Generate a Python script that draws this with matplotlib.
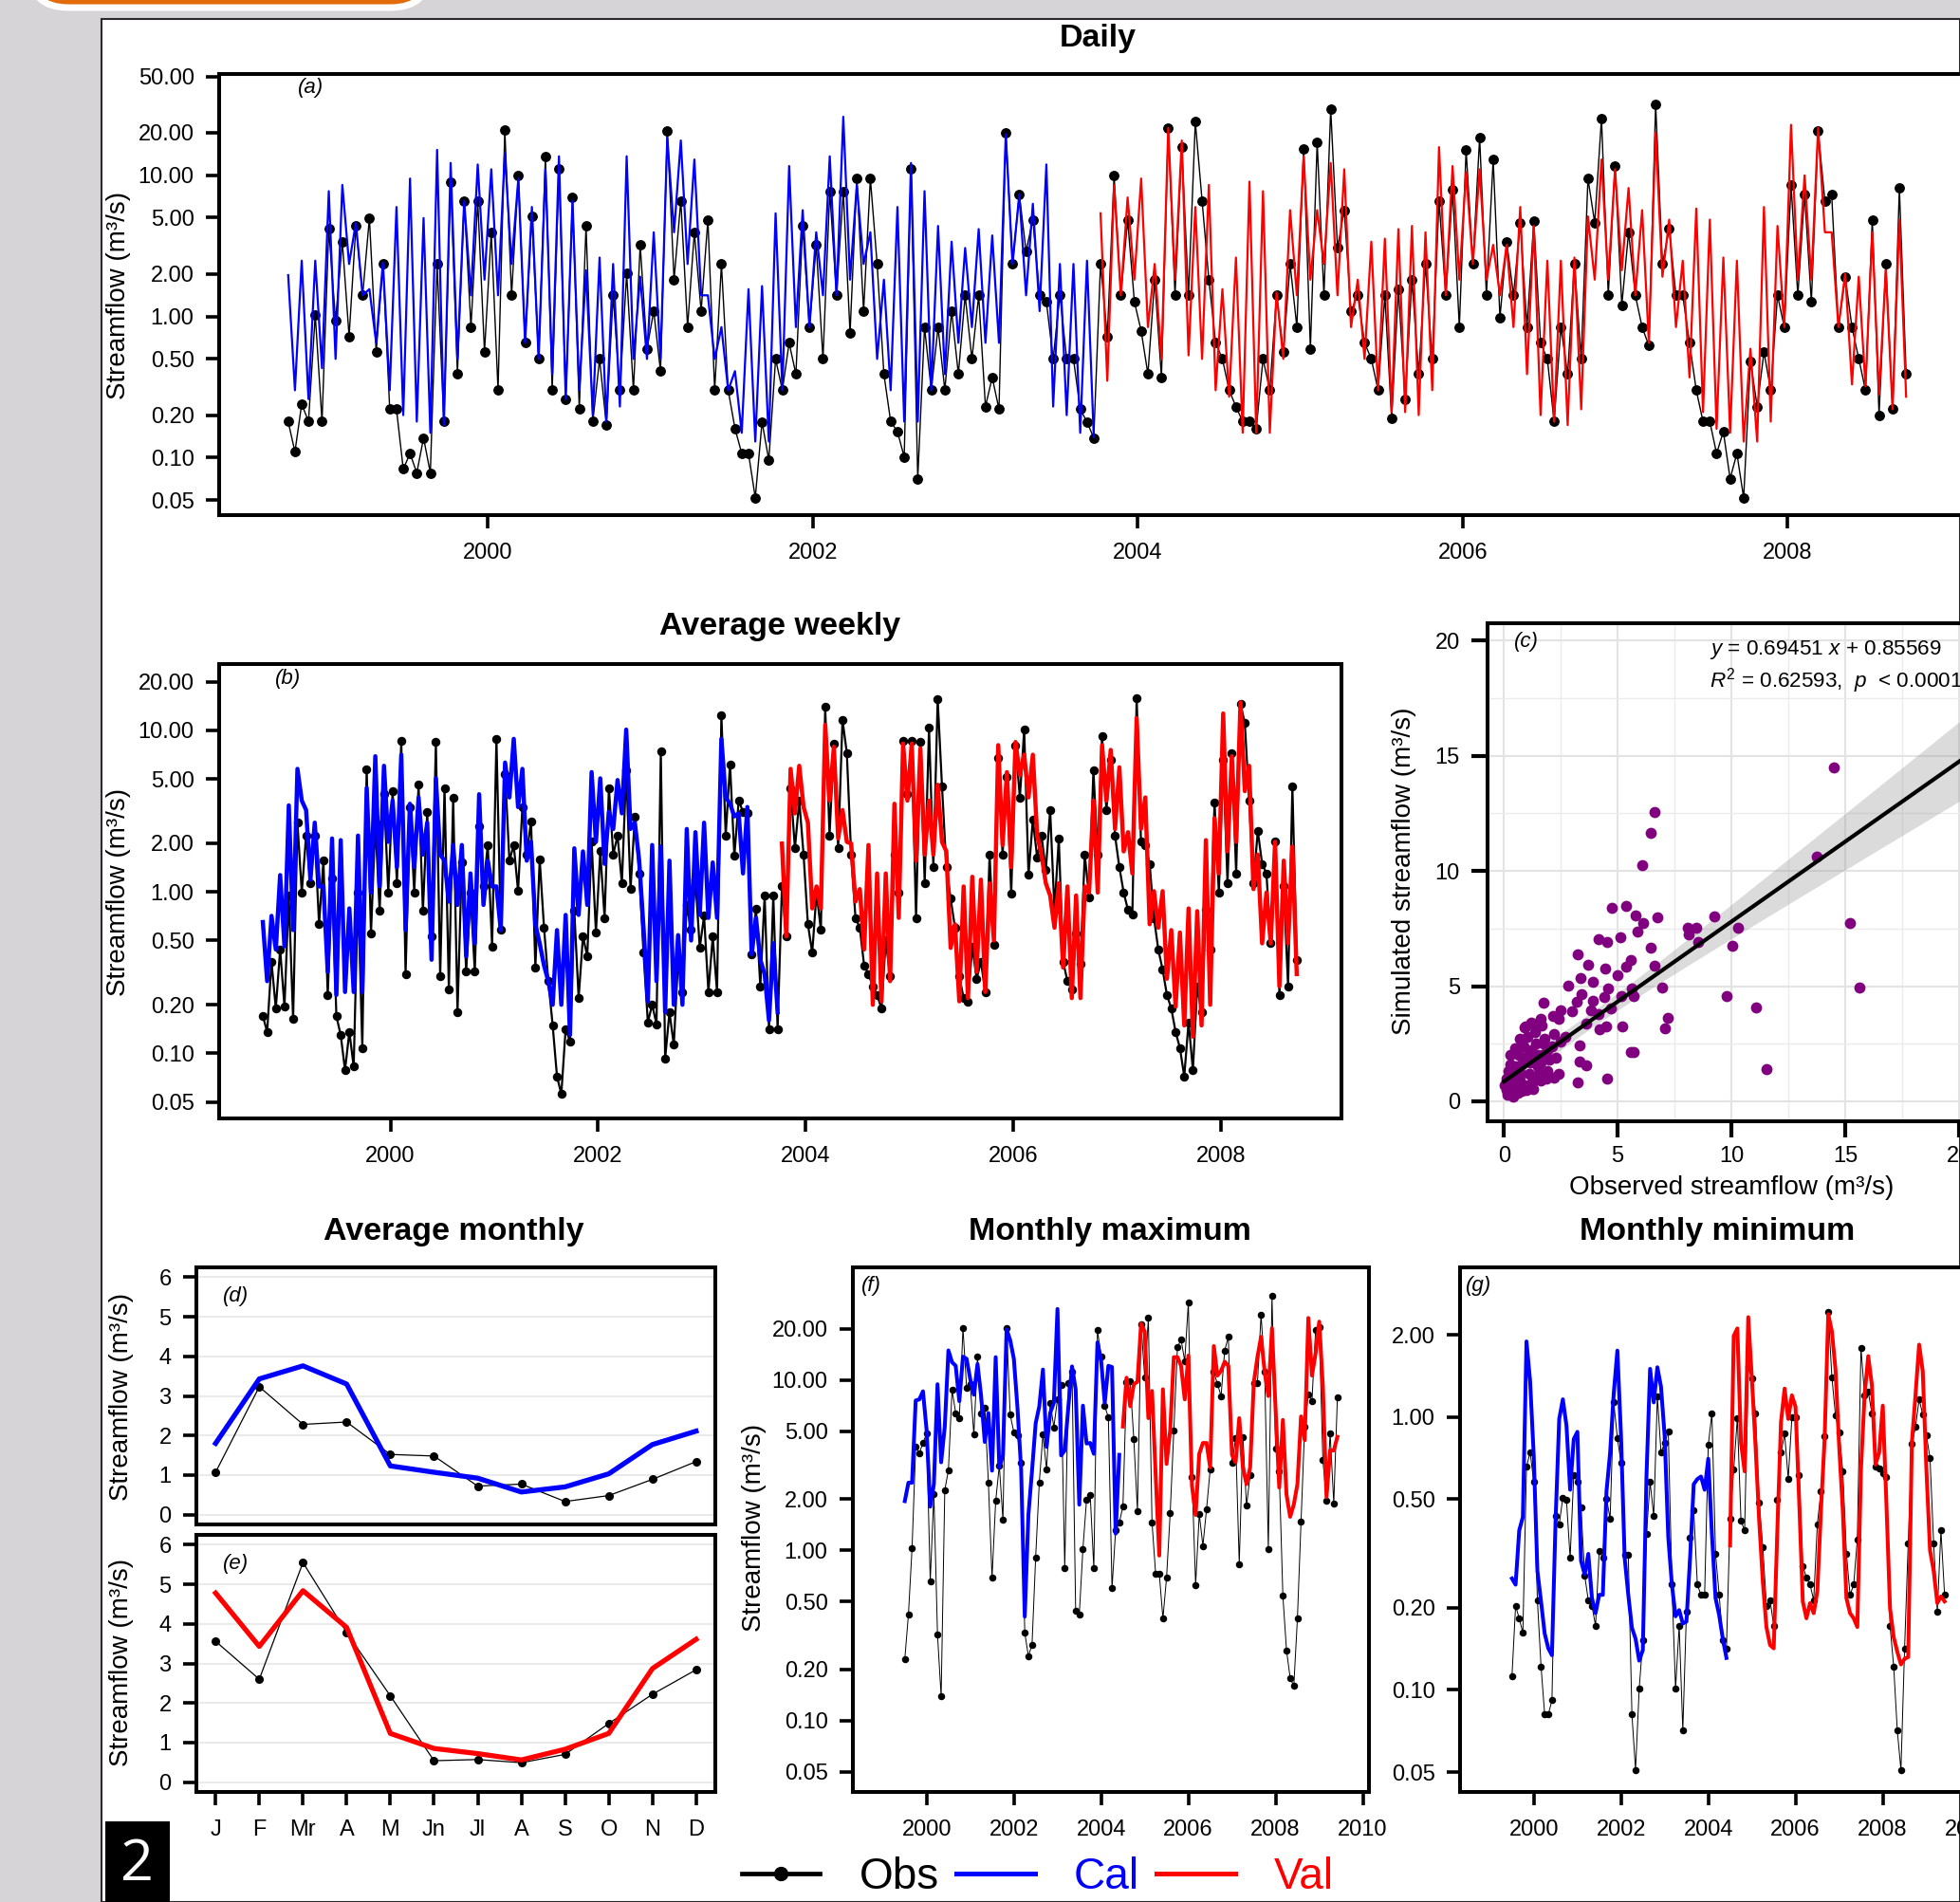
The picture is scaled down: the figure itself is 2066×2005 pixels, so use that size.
#! /usr/bin/env python
# observed vs simulated streamflow (calibration / validation) - multi panel figure
import numpy as np
import matplotlib
matplotlib.use('Agg')
import matplotlib.pyplot as plt
from matplotlib.patches import Rectangle, FancyBboxPatch
from matplotlib.lines import Line2D
from matplotlib.ticker import FixedLocator, FormatStrFormatter, NullLocator

plt.rcParams['font.family'] = ['Liberation Sans', 'DejaVu Sans']
plt.rcParams['mathtext.fontset'] = 'custom'
plt.rcParams['mathtext.rm'] = 'Liberation Sans'
plt.rcParams['mathtext.it'] = 'Liberation Sans:italic'

#################
# data (m3/s)
#################
# daily: two readings per month (high / low), Oct 1998 - Sep 2008
daily_obs = [
    0.18, 0.11, 0.24, 0.18, 1.03, 0.18, 4.15, 0.93, 3.38, 0.72, 4.37, 1.41, 4.97, 0.56, 2.35, 0.22,
    0.22, 0.083, 0.107, 0.078, 0.138, 0.078, 2.35, 0.18, 8.99, 0.39, 6.59, 0.84, 6.59, 0.56, 3.94, 0.30,
    21.0, 1.41, 9.96, 0.65, 5.10, 0.50, 13.6, 0.30, 11.0, 0.26, 6.95, 0.22, 4.37, 0.18, 0.50, 0.17,
    1.41, 0.30, 2.01, 0.30, 3.21, 0.59, 1.09, 0.41, 20.5, 1.82, 6.59, 0.84, 3.94, 1.09, 4.84, 0.30,
    2.35, 0.30, 0.161, 0.107, 0.107, 0.052, 0.179, 0.096, 0.50, 0.30, 0.65, 0.39, 4.37, 0.84, 3.21, 0.50,
    7.70, 1.41, 7.70, 0.76, 9.46, 1.09, 9.46, 2.35, 0.39, 0.18, 0.153, 0.101, 11.0, 0.071, 0.84, 0.30,
    0.84, 0.30, 1.09, 0.39, 1.41, 0.50, 1.41, 0.23, 0.37, 0.22, 20.0, 2.35, 7.31, 2.89, 4.84, 1.41,
    1.27, 0.50, 1.41, 0.50, 0.50, 0.22, 0.179, 0.138,
    2.35, 0.72, 9.96, 1.41, 4.84, 1.27, 0.79, 0.39, 1.82, 0.37, 21.6, 1.41, 15.8, 1.41, 23.9, 6.59,
    1.82, 0.65, 0.50, 0.30, 0.23, 0.18, 0.18, 0.16, 0.50, 0.30, 1.41, 0.56, 2.35, 0.84, 15.4, 0.59,
    17.1, 1.41, 29.4, 3.05, 5.65, 1.09, 1.41, 0.65, 0.50, 0.30, 1.41, 0.19, 1.56, 0.26, 1.82, 0.39,
    2.35, 0.50, 6.59, 1.41, 7.90, 0.84, 15.1, 2.35, 18.5, 1.41, 12.9, 0.98, 3.38, 1.41, 4.60, 0.84,
    4.72, 0.65, 0.50, 0.18, 0.84, 0.39, 2.35, 0.50, 9.46, 4.60, 25.2, 1.41, 11.6, 1.20, 3.94, 1.41,
    0.84, 0.62, 31.8, 2.35, 4.15, 1.41, 1.41, 0.65, 0.30, 0.18, 0.18, 0.107, 0.153, 0.071, 0.107, 0.052,
    0.48, 0.23, 0.56, 0.30, 1.41, 0.84, 8.53, 1.41, 7.31, 1.27, 20.5, 6.59, 7.31, 0.84, 1.91, 0.84,
    0.50, 0.30, 4.84, 0.20, 2.35, 0.22, 8.11, 0.39]
daily_sim_cal = [
    1.96, 0.30, 2.48, 0.26, 2.48, 0.43, 7.70, 0.50, 8.53, 2.35, 4.60, 1.41, 1.56, 0.65, 2.41, 0.30,
    5.95, 0.20, 9.46, 0.18, 4.97, 0.15, 15.1, 0.17, 12.2, 0.50, 6.59, 1.41, 11.9, 1.82, 11.0, 1.41,
    14.3, 2.35, 9.46, 0.65, 5.95, 0.50, 11.0, 0.39, 13.6, 0.26, 6.59, 0.30, 2.12, 0.20, 2.61, 0.18,
    2.35, 0.23, 13.6, 0.50, 1.91, 0.50, 3.94, 0.50, 18.5, 3.94, 17.6, 2.35, 12.9, 1.41, 1.41, 0.50,
    0.84, 0.30, 0.41, 0.15, 1.56, 0.13, 1.64, 0.13, 5.37, 0.30, 11.6, 0.84, 5.65, 0.84, 3.94, 1.41,
    13.6, 1.41, 25.9, 1.82, 8.53, 2.35, 3.94, 0.50, 1.82, 0.30, 5.95, 0.18, 12.2, 0.18, 7.70, 0.30,
    4.37, 0.39, 3.38, 0.65, 3.05, 0.84, 4.15, 0.65, 3.74, 0.65, 19.5, 2.35, 7.31, 1.41, 6.27, 1.09,
    11.9, 0.23, 2.35, 0.20, 2.35, 0.15, 2.48, 0.14]
daily_sim_val = [
    5.37, 0.35, 8.53, 1.41, 6.95, 1.82, 9.46, 0.84, 2.35, 0.50, 21.6, 1.82, 17.6, 0.53, 5.95, 0.50,
    8.53, 0.30, 1.56, 0.27, 2.61, 0.15, 8.99, 0.15, 7.70, 0.15, 1.48, 0.50, 5.65, 1.41, 13.6, 1.82,
    5.65, 2.35, 12.2, 1.41, 11.0, 0.84, 1.82, 0.50, 3.38, 0.30, 3.55, 0.21, 4.15, 0.21, 4.37, 0.20,
    3.94, 0.30, 15.8, 1.41, 11.6, 1.82, 10.5, 2.35, 11.0, 1.82, 3.21, 1.41, 3.21, 0.84, 5.95, 0.39,
    4.37, 0.20, 2.48, 0.18, 2.48, 0.17, 2.61, 0.22, 5.10, 1.82, 12.9, 1.82, 11.0, 2.12, 8.11, 1.41,
    5.65, 0.65, 20.0, 1.91, 4.84, 0.84, 2.48, 0.37, 5.80, 0.21, 4.84, 0.16, 2.61, 0.15, 2.48, 0.13,
    0.59, 0.13, 5.95, 0.18, 4.37, 0.84, 22.7, 1.82, 9.96, 1.82, 21.6, 3.94, 3.94, 0.84, 2.01, 0.33,
    1.91, 0.32, 3.94, 0.28, 2.12, 0.22, 4.84, 0.27]

# weekly averages: two readings per month, Oct 1998 - Sep 2008
weekly_obs = [
    0.17, 0.136, 0.37, 0.19, 0.44, 0.195, 0.95, 0.163, 2.68, 0.99, 2.23, 1.13, 2.23, 0.63, 1.56, 0.23,
    1.21, 0.17, 0.13, 0.079, 0.136, 0.083, 0.99, 0.108, 5.77, 0.55, 2.68, 0.76, 4.02, 0.99, 4.20, 1.13,
    8.65, 0.31, 3.35, 0.99, 4.60, 0.76, 3.13, 0.53, 8.46, 0.30, 4.40, 0.25, 3.84, 0.18, 1.52, 0.32,
    0.99, 0.32, 2.56, 1.08, 1.95, 0.46, 8.85, 0.58, 5.39, 1.56, 1.95, 1.01, 3.35, 1.70, 2.74, 0.34,
    1.59, 0.60, 0.28, 0.149, 0.072, 0.056, 0.142, 0.119, 0.76, 0.22, 0.53, 0.40, 2.04, 0.56, 1.78, 0.69,
    4.40, 1.70, 2.23, 1.13, 5.64, 1.04, 2.93, 1.30, 0.42, 0.156, 0.20, 0.152, 7.39, 0.093, 0.18, 0.113,
    0.38, 0.24, 0.83, 0.58, 1.19, 0.45, 0.71, 0.24, 0.53, 0.24, 12.4, 2.23, 6.17, 1.67, 3.67, 3.13,
    3.06, 0.41, 0.79, 0.26, 0.95, 0.142, 0.95, 0.142,
    1.08, 0.53, 4.40, 1.86, 3.67, 1.70, 0.63, 0.42, 0.99, 0.58, 13.9, 2.23, 8.27, 1.86, 11.6, 7.23,
    1.70, 0.69, 0.60, 0.35, 0.31, 0.26, 0.23, 0.19, 0.50, 0.30, 1.70, 0.99, 8.65, 4.02, 8.65, 0.69,
    8.46, 1.13, 10.4, 1.42, 15.6, 4.50, 1.42, 0.91, 0.60, 0.30, 0.22, 0.21, 0.46, 0.29, 0.37, 0.24,
    1.70, 0.47, 6.75, 1.70, 5.15, 0.97, 8.09, 3.84, 10.1, 1.27, 2.80, 1.63, 2.23, 1.36, 3.21, 0.77,
    2.14, 0.37, 0.28, 0.25, 0.55, 0.36, 1.70, 0.93, 5.64, 1.70, 9.26, 3.21, 6.60, 2.23, 1.42, 0.99,
    0.77, 0.72, 15.9, 2.04, 1.95, 1.49, 0.69, 0.44, 0.33, 0.23, 0.19, 0.136, 0.108, 0.072, 0.156, 0.079,
    0.26, 0.18, 0.77, 0.44, 3.59, 0.99, 6.60, 1.13, 7.23, 1.30, 14.5, 11.1, 3.67, 1.13, 2.39, 1.49,
    1.30, 0.48, 2.04, 0.23, 1.08, 0.26, 4.50, 0.38]
weekly_sim_cal = [
    0.65, 0.28, 0.71, 0.44, 1.27, 0.46, 3.43, 0.58, 5.77, 3.67, 3.21, 1.19, 2.68, 1.08, 1.08, 0.32,
    2.14, 0.23, 2.09, 0.24, 0.79, 0.24, 2.23, 0.24, 4.40, 0.99, 6.91, 1.08, 6.03, 2.04, 3.67, 1.42,
    7.06, 0.58, 3.51, 1.42, 3.84, 1.70, 2.68, 0.38, 5.04, 1.70, 1.56, 0.87, 1.95, 0.83, 1.95, 0.40,
    1.30, 0.48, 4.02, 0.83, 1.56, 1.08, 1.08, 0.58, 6.31, 3.84, 8.85, 3.35, 5.77, 1.56, 2.04, 0.63,
    0.48, 0.35, 0.28, 0.20, 0.58, 0.20, 0.72, 0.13, 1.86, 0.72, 1.78, 0.83, 5.51, 2.04, 5.04, 1.49,
    3.13, 2.45, 4.92, 3.06, 10.1, 2.45, 2.68, 1.56, 0.60, 0.21, 1.95, 0.28, 1.91, 0.18, 1.56, 0.20,
    0.54, 0.20, 2.45, 0.50, 2.34, 0.72, 2.68, 0.69, 1.52, 0.69, 8.85, 3.84, 3.51, 2.93, 3.06, 1.30,
    3.35, 0.41, 0.69, 0.38, 0.31, 0.16, 0.48, 0.18]
weekly_sim_val = [
    1.99, 0.53, 5.77, 3.06, 6.03, 3.35, 2.68, 0.79, 1.08, 0.79, 10.8, 3.67, 7.91, 2.14, 3.21, 2.04,
    1.99, 0.87, 1.04, 0.44, 1.95, 0.20, 1.30, 0.21, 1.30, 0.28, 3.51, 0.69, 8.27, 3.67, 8.27, 1.56,
    7.73, 1.70, 3.67, 1.70, 4.60, 2.04, 1.78, 0.45, 0.63, 0.21, 1.08, 0.22, 1.24, 0.32, 1.19, 0.24,
    1.13, 0.50, 8.09, 1.95, 5.51, 1.42, 8.46, 5.27, 7.06, 3.84, 7.06, 2.23, 1.70, 1.13, 0.95, 0.60,
    1.13, 0.34, 1.08, 0.22, 0.95, 0.22, 1.08, 0.99, 3.67, 0.99, 8.09, 3.67, 7.56, 2.45, 5.90, 1.78,
    2.34, 1.30, 11.9, 2.45, 3.84, 0.63, 1.01, 0.60, 1.01, 0.29, 0.58, 0.195, 0.56, 0.149, 0.79, 0.127,
    0.76, 0.149, 2.09, 0.20, 2.86, 1.30, 12.7, 1.78, 6.91, 2.04, 14.9, 4.20, 6.03, 1.04, 1.70, 0.48,
    0.99, 0.48, 2.04, 0.26, 1.56, 0.48, 1.91, 0.31]

# scatter (c): observed vs simulated
scat_obs = [14.49, 6.64, 6.46, 6.07, 13.77, 5.36, 4.75, 5.77, 6.10, 6.76, 5.86, 9.23, 8.08, 8.47, 8.11,
            10.28, 15.21, 8.54, 10.03, 4.14, 4.52, 5.10, 6.46, 3.26, 3.70, 4.47, 5.59, 5.38, 6.64, 3.37,
            3.90, 5.00, 2.83, 4.57, 5.64, 6.97, 15.61, 3.39, 4.41, 5.15, 5.71, 9.80, 3.19, 3.91, 1.73,
            11.10, 4.69, 3.83, 2.98, 4.16, 7.20, 2.48, 2.17, 1.63, 3.62, 4.21, 4.49, 5.20, 7.06, 0.95,
            1.37, 2.70, 3.31, 5.58, 5.69, 3.31, 3.62, 11.55, 2.42, 3.24, 4.52, 2.19,
            0.10, 0.20, 0.30, 0.40, 0.50, 0.60, 0.70, 0.80, 0.90, 1.00, 1.10, 1.20, 1.30, 1.40, 1.50,
            1.60, 1.70, 1.80, 1.90, 2.00, 2.10, 0.15, 0.25, 0.35, 0.45, 0.55, 0.65, 0.75, 0.85, 0.95,
            1.05, 1.15, 1.25, 1.35, 1.45, 1.55, 1.65, 1.75, 1.85, 2.20, 2.30, 2.50, 0.05, 0.30, 0.50,
            0.70, 0.90, 1.10, 1.20, 0.20, 0.40, 0.60, 0.80, 1.00, 1.30, 1.60, 1.90, 2.40, 0.10, 0.30]
scat_sim = [14.49, 12.55, 11.64, 10.27, 10.63, 8.50, 8.39, 8.07, 7.74, 7.98, 7.38, 8.03, 7.55, 7.55, 7.26,
            7.52, 7.76, 6.92, 6.75, 7.02, 6.90, 7.11, 6.66, 6.37, 5.91, 5.77, 6.13, 5.85, 5.89, 5.34,
            5.20, 5.46, 5.01, 4.89, 4.89, 4.94, 4.93, 4.64, 4.51, 4.55, 4.58, 4.55, 4.33, 4.38, 4.26,
            4.09, 4.03, 3.95, 3.90, 3.78, 3.62, 3.95, 3.69, 3.57, 3.38, 3.14, 3.24, 3.24, 3.18, 3.23,
            3.31, 2.78, 2.44, 2.13, 2.13, 1.72, 1.56, 1.41, 1.18, 0.82, 1.00, 1.01,
            0.50, 0.80, 0.40, 1.00, 0.60, 1.30, 0.90, 1.60, 0.70, 1.90, 1.20, 2.20, 1.00, 2.50, 1.50,
            0.90, 2.00, 2.70, 1.30, 1.80, 2.40, 0.30, 0.60, 1.10, 0.50, 1.50, 2.00, 1.20, 2.40, 0.60,
            2.80, 1.70, 0.80, 3.00, 2.00, 1.20, 3.30, 2.50, 1.00, 2.90, 1.90, 2.60, 0.70, 1.60, 2.30,
            2.70, 3.20, 2.10, 3.40, 1.30, 0.20, 0.35, 0.45, 0.50, 0.55, 1.70, 2.20, 3.60, 1.00, 2.00]
fit_slope, fit_icpt = 0.69451, 0.85569
fit_r2 = 0.62593

# average monthly (d: calibration, e: validation)
months = ['J', 'F', 'Mr', 'A', 'M', 'Jn', 'Jl', 'A', 'S', 'O', 'N', 'D']
avg_obs_cal = [1.07, 3.23, 2.28, 2.34, 1.52, 1.48, 0.72, 0.77, 0.33, 0.48, 0.89, 1.34]
avg_sim_cal = [1.80, 3.43, 3.76, 3.30, 1.23, 1.07, 0.92, 0.57, 0.70, 1.03, 1.77, 2.11]
avg_obs_val = [3.56, 2.60, 5.55, 3.78, 2.18, 0.54, 0.57, 0.49, 0.70, 1.48, 2.22, 2.84]
avg_sim_val = [4.78, 3.43, 4.84, 3.91, 1.23, 0.85, 0.72, 0.56, 0.83, 1.23, 2.87, 3.61]

# monthly maximum (f), Jul 1999 - Jun 2009
max_obs = [0.229, 0.418, 1.03, 4.04, 3.72, 4.26, 4.85, 0.659, 2.14, 0.319,
           0.138, 2.25, 2.95, 8.73, 6.39, 5.93, 20.2, 9.01, 9.43, 4.78,
           13.7, 6.33, 6.90, 2.48, 0.687, 1.94, 3.15, 1.50, 20.2, 6.24,
           4.92, 4.70, 3.24, 0.328, 0.238, 0.279, 0.908, 2.50, 4.78, 2.97,
           7.33, 5.27, 7.68, 9.35, 0.788, 9.52, 11.2, 0.440, 0.418, 1.02,
           1.98, 2.12, 0.780, 19.6, 13.7, 7.00, 6.04, 0.598, 1.31, 1.45,
           1.80, 9.66, 9.79, 4.47, 1.70, 21.1, 10.3, 23.1, 1.46, 0.728,
           0.728, 0.397, 0.687, 1.65, 5.01, 15.6, 17.2, 12.9, 28.5, 2.70,
           0.626, 1.63, 1.06, 1.74, 2.97, 11.1, 9.48, 8.04, 14.9, 17.9,
           3.24, 4.53, 0.828, 4.63, 1.82, 2.77, 9.61, 9.61, 24.2, 11.1,
           1.01, 31.3, 3.95, 2.89, 0.538, 0.258, 0.178, 0.159, 0.397, 1.48,
           5.32, 8.22, 7.54, 19.7, 20.3, 3.39, 1.95, 4.85, 1.88, 7.93]
max_sim_cal = [1.94, 2.49, 2.49, 7.57, 7.68, 8.57, 5.08, 1.80, 2.44, 9.43,
               3.28, 5.32, 14.9, 12.7, 12.1, 7.50, 13.7, 13.3, 10.1, 8.18,
               12.4, 8.04, 4.32, 6.39, 2.93, 13.6, 3.06, 3.60, 19.8, 17.1,
               13.3, 6.84, 2.99, 0.407, 1.61, 2.93, 5.56, 7.00, 11.5, 4.04,
               6.39, 7.33, 26.1, 3.60, 3.85, 7.00, 12.0, 8.81, 1.85, 7.06,
               4.23, 4.26, 3.68, 16.6, 13.0, 7.33, 12.1, 11.9, 1.25, 3.63]
max_sim_val = [5.32, 10.3, 7.00, 9.43, 9.75, 21.4, 19.2, 5.96, 8.61, 2.80,
               0.929, 8.81, 3.21, 5.08, 13.6, 13.6, 12.1, 7.68, 13.9, 2.38,
               1.61, 3.68, 4.26, 4.26, 3.06, 15.8, 10.6, 11.3, 12.8, 12.1,
               3.63, 3.28, 5.96, 3.06, 2.44, 3.06, 9.66, 13.6, 17.9, 11.1,
               8.04, 20.1, 6.69, 2.33, 5.82, 2.12, 1.57, 1.85, 2.44, 6.10,
               4.42, 23.1, 10.6, 14.3, 22.0, 9.22, 2.05, 3.85, 3.85, 4.63]

# monthly minimum (g), Jul 1999 - Jun 2009
min_obs = [0.112, 0.203, 0.183, 0.162, 0.656, 0.743, 0.577, 0.213, 0.122, 0.0813, 0.0813,
           0.0916, 0.434, 0.404, 0.506, 0.496, 0.304, 0.614, 0.577, 0.465, 0.263,
           0.213, 0.203, 0.172, 0.324, 0.304, 0.503, 0.424, 1.13, 0.838, 0.679,
           0.313, 0.313, 0.0813, 0.0509, 0.101, 0.152, 0.373, 0.577, 0.434, 1.19,
           0.739, 0.805, 0.885, 0.243, 0.101, 0.172, 0.0710, 0.193, 0.362, 0.455, 0.243,
           0.223, 0.223, 0.789, 1.03, 0.315, 0.223, 0.152, 0.142, 0.424, 0.641, 0.991,
           0.416, 0.384, 1.52, 1.38, 1.03, 0.485, 0.333, 0.203, 0.213, 0.172,
           0.496, 0.739, 0.867, 0.594, 0.994, 0.994, 0.614, 0.284, 0.258, 0.243, 0.213,
           0.404, 0.536, 0.848, 2.43, 1.40, 1.01, 0.877, 0.634, 0.315, 0.223,
           0.243, 0.355, 1.79, 1.20, 1.24, 1.03, 0.656, 0.645, 0.623, 0.604, 0.172,
           0.122, 0.0710, 0.0509, 0.142, 0.344, 0.794, 0.918, 1.16, 1.02, 0.857,
           0.706, 0.344, 0.193, 0.384, 0.223]
min_sim_cal = [0.256, 0.243, 0.384, 0.430, 1.89, 1.35, 0.718, 0.273, 0.211, 0.161,
               0.142, 0.134, 0.418, 0.983, 1.16, 0.929, 0.541, 0.829, 0.882, 0.297,
               0.265, 0.315, 0.217, 0.191, 0.223, 0.223, 0.533, 0.739, 1.22, 1.75,
               0.853, 0.305, 0.223, 0.169, 0.154, 0.128, 0.140, 0.605, 1.50, 1.13,
               1.52, 1.29, 0.853, 0.362, 0.243, 0.186, 0.196, 0.175, 0.178, 0.305,
               0.567, 0.592, 0.605, 0.541, 0.703, 0.373, 0.217, 0.188, 0.154, 0.131]
min_sim_val = [0.338, 1.98, 2.11, 0.805, 0.632, 2.32, 1.38, 0.783, 0.418, 0.250,
               0.170, 0.146, 0.142, 0.384, 0.955, 1.27, 0.983, 1.20, 1.09, 0.496,
               0.211, 0.183, 0.208, 0.191, 0.230, 0.455, 0.829, 2.38, 2.06, 1.49,
               0.783, 0.455, 0.217, 0.191, 0.183, 0.170, 0.641, 1.20, 1.67, 1.31,
               0.669, 0.739, 1.10, 0.482, 0.199, 0.156, 0.138, 0.124, 0.130, 0.132,
               0.805, 1.20, 1.84, 1.47, 0.641, 0.324, 0.273, 0.208, 0.220, 0.211]

#################
# figure layout (pixel boxes on a 2066 x 2005 canvas)
#################
W, H = 2066, 2005
fig = plt.figure(figsize=(W / 100, H / 100), dpi=100, facecolor='#d7d4d8')


def px_axes(left, top, right, bottom):
    return fig.add_axes([left / W, 1 - bottom / H, (right - left) / W, (bottom - top) / H])


def fx(x):
    return x / W


def fy(y):
    return 1 - y / H


# white page, orange tab and the page number box
fig.patches.append(Rectangle((fx(107), 0), 1 - fx(107), fy(20), transform=fig.transFigure,
                             facecolor='white', edgecolor='#2a2a2a', lw=1.5, zorder=-10))
fig.patches.append(FancyBboxPatch((fx(31), fy(8)), fx(422), 0.05,
                                  boxstyle='round,pad=0,rounding_size=0.02',
                                  transform=fig.transFigure, facecolor='#e36c0a',
                                  edgecolor='white', lw=5, zorder=-5))
fig.patches.append(Rectangle((fx(111), 0), fx(68), fy(1920), transform=fig.transFigure,
                             facecolor='black', edgecolor='none', zorder=5))
fig.text(fx(145), fy(1966), '2', color='white', fontsize=44, ha='center', va='center',
         family=['Open Sans', 'DejaVu Sans'], zorder=6)

SP_LW = 2.9
TICK = dict(direction='out', length=10, width=2.6, labelsize=17, pad=9)
PLAB = 16   # size of the italic panel tags


def r_style(ax):
    for s in ax.spines.values():
        s.set_linewidth(SP_LW)
    ax.tick_params(axis='both', which='major', top=False, right=False, **TICK)
    ax.tick_params(which='minor', length=0)


def log_y(ax, ticks):
    ax.set_yscale('log')
    ax.yaxis.set_major_locator(FixedLocator(ticks))
    ax.yaxis.set_major_formatter(FormatStrFormatter('%.2f'))
    ax.yaxis.set_minor_locator(NullLocator())


def year_x(ax, years):
    ax.set_xticks(years)
    ax.set_xticklabels([str(y) for y in years])
    ax.tick_params(axis='x', pad=11)


ylab = 'Streamflow (m³/s)'

# ---------------- (a) daily
xd = 1998.75 + (np.arange(len(daily_obs)) + 0.5) / 24
nd = len(daily_sim_cal)
ax_a = px_axes(231, 78, 2083, 543)
ax_a.plot(xd, daily_obs, color='black', lw=1.0, marker='o', ms=6.8, zorder=2)
ax_a.plot(xd[:nd], daily_sim_cal, color='blue', lw=1.6, zorder=3)
ax_a.plot(xd[nd:], daily_sim_val, color='red', lw=1.6, zorder=3)
log_y(ax_a, [0.05, 0.1, 0.2, 0.5, 1, 2, 5, 10, 20, 50])
ax_a.set_ylim(0.0392, 52)
ax_a.set_xlim(1998.346, 2009.16)
r_style(ax_a)
year_x(ax_a, [2000, 2002, 2004, 2006, 2008])
ax_a.text(0.052, 0.969, '(a)', transform=ax_a.transAxes, fontsize=PLAB, style='italic',
          ha='center', va='center')
fig.text(fx(1157), fy(40), 'Daily', fontsize=24.5, weight='bold', ha='center', va='center')
fig.text(fx(125), fy(311), ylab, fontsize=20, rotation=90, ha='center', va='center')

# ---------------- (b) weekly
xw = 1998.75 + (np.arange(len(weekly_obs)) + 0.5) / 24
nw = len(weekly_sim_cal)
ax_b = px_axes(231, 700, 1414, 1179)
ax_b.plot(xw, weekly_obs, color='black', lw=1.6, marker='o', ms=5.8, zorder=2)
ax_b.plot(xw[:nw], weekly_sim_cal, color='blue', lw=3.2, zorder=3)
ax_b.plot(xw[nw:], weekly_sim_val, color='red', lw=3.2, zorder=3)
log_y(ax_b, [0.05, 0.1, 0.2, 0.5, 1, 2, 5, 10, 20])
ax_b.set_ylim(0.0396, 25.7)
ax_b.set_xlim(1998.35, 2009.16)
r_style(ax_b)
year_x(ax_b, [2000, 2002, 2004, 2006, 2008])
ax_b.text(0.061, 0.967, '(b)', transform=ax_b.transAxes, fontsize=PLAB, style='italic',
          ha='center', va='center')
fig.text(fx(822), fy(661), 'Average weekly', fontsize=24.5, weight='bold', ha='center', va='center')
fig.text(fx(125), fy(940), ylab, fontsize=20, rotation=90, ha='center', va='center')

# ---------------- (c) scatter with linear fit
ax_c = px_axes(1568, 657, 2084, 1182)
so = np.array(scat_obs)
ss = np.array(scat_sim)
n = len(so)
resid = ss - (fit_icpt + fit_slope * so)
s_err = np.sqrt(np.sum(resid ** 2) / (n - 2))
sxx = np.sum((so - so.mean()) ** 2)
xs = np.linspace(0, 21, 60)
ys = fit_icpt + fit_slope * xs
half = 1.97 * s_err * np.sqrt(1 / n + (xs - so.mean()) ** 2 / sxx)
ax_c.fill_between(xs, ys - half, ys + half, color='#999999', alpha=0.35, lw=0, zorder=2)
ax_c.scatter(so, ss, s=72, color='#800080', lw=0, zorder=3)
ax_c.plot(xs, ys, color='black', lw=3, zorder=4)
ax_c.set_xlim(-0.72, 20.8)
ax_c.set_ylim(-0.87, 20.76)
ax_c.set_xticks([0, 5, 10, 15, 20])
ax_c.set_yticks([0, 5, 10, 15, 20])
ax_c.set_xticks([2.5, 7.5, 12.5, 17.5], minor=True)
ax_c.set_yticks([2.5, 7.5, 12.5, 17.5], minor=True)
ax_c.grid(which='major', color='#e3e3e3', lw=1.5, zorder=0)
ax_c.grid(which='minor', color='#ebebeb', lw=1.0, zorder=0)
ax_c.set_axisbelow(True)
for s in ax_c.spines.values():
    s.set_linewidth(SP_LW)
ax_c.tick_params(axis='both', which='major', direction='out', length=12, width=3,
                 labelsize=17, top=False, right=False)
ax_c.tick_params(axis='y', pad=9)
ax_c.tick_params(axis='x', pad=7)
ax_c.tick_params(which='minor', length=0)
ax_c.text(0.99, 19.95, '(c)', fontsize=PLAB, style='italic', ha='center', va='center')
ax_c.text(9.05, 19.62, r'$y$ = 0.69451 $x$ + 0.85569', fontsize=16.2, ha='left', va='center')
ax_c.text(9.05, 18.27, r'$R^2$ = %.5f,  $p$  < 0.0001' % fit_r2, fontsize=16.2,
          ha='left', va='center')
fig.text(fx(1480), fy(918), 'Simulated streamflow (m³/s)', fontsize=20, rotation=90,
         ha='center', va='center')
fig.text(fx(1825), fy(1252), 'Observed streamflow (m³/s)', fontsize=20, ha='center', va='center')

# ---------------- (d), (e) average monthly
mx = np.arange(1, 13)
fig.text(fx(478), fy(1298), 'Average monthly', fontsize=24.5, weight='bold', ha='center', va='center')
ax_d = px_axes(207, 1336, 754, 1607)
ax_e = px_axes(207, 1618, 754, 1889)
for ax, ob, sim, col, lab in [(ax_d, avg_obs_cal, avg_sim_cal, 'blue', '(d)'),
                              (ax_e, avg_obs_val, avg_sim_val, 'red', '(e)')]:
    ax.plot(mx, ob, color='black', lw=0.9, marker='o', ms=5.5, zorder=2)
    ax.plot(mx, sim, color=col, lw=3.8, zorder=3)
    ax.set_ylim(-0.25, 6.25)
    ax.set_xlim(0.56, 12.44)
    ax.set_yticks(range(0, 7))
    ax.grid(axis='y', color='#e6e6e6', lw=1.2, zorder=0)
    r_style(ax)
    ax.text(0.075, 0.888, lab, transform=ax.transAxes, fontsize=PLAB, style='italic',
            ha='center', va='center')
ax_d.tick_params(axis='x', bottom=False, labelbottom=False)
ax_e.set_xticks(mx)
ax_e.set_xticklabels(months)
ax_e.tick_params(axis='x', pad=11)
fig.text(fx(128), fy(1472), ylab, fontsize=20, rotation=90, ha='center', va='center')
fig.text(fx(128), fy(1752), ylab, fontsize=20, rotation=90, ha='center', va='center')

# ---------------- (f), (g) monthly max / min
xm = 1999.5 + np.arange(len(max_obs)) / 12
nm = len(max_sim_cal)
fig.text(fx(1170), fy(1298), 'Monthly maximum', fontsize=24.5, weight='bold', ha='center', va='center')
fig.text(fx(1810), fy(1298), 'Monthly minimum', fontsize=24.5, weight='bold', ha='center', va='center')
ax_f = px_axes(899, 1336, 1443, 1889)
ax_g = px_axes(1539, 1336, 2083, 1889)
panels = [(ax_f, max_obs, max_sim_cal, max_sim_val, [0.05, 0.1, 0.2, 0.5, 1, 2, 5, 10, 20],
           (0.038, 45.8), '(f)'),
          (ax_g, min_obs, min_sim_cal, min_sim_val, [0.05, 0.1, 0.2, 0.5, 1, 2],
           (0.0423, 3.53), '(g)')]
for ax, ob, sc, sv, ticks, yl, lab in panels:
    ax.plot(xm, ob, color='black', lw=0.7, marker='o', ms=4.4, zorder=2)
    ax.plot(xm[:nm], sc, color='blue', lw=2.9, zorder=3)
    ax.plot(xm[nm:], sv, color='red', lw=2.9, zorder=3)
    log_y(ax, ticks)
    ax.set_ylim(*yl)
    ax.set_xlim(1998.31, 2010.14)
    r_style(ax)
    year_x(ax, [2000, 2002, 2004, 2006, 2008, 2010])
    ax.text(0.036, 0.964, lab, transform=ax.transAxes, fontsize=PLAB, style='italic',
            ha='center', va='center')
fig.text(fx(795), fy(1610), ylab, fontsize=20, rotation=90, ha='center', va='center')

# ---------------- legend
handles = [Line2D([], [], color='black', lw=3.4, marker='o', ms=10),
           Line2D([], [], color='blue', lw=3.6),
           Line2D([], [], color='red', lw=3.6)]
leg = fig.legend(handles, ['Obs', 'Cal', 'Val'], ncol=3, loc='center',
                 bbox_to_anchor=(fx(1094), fy(1979)), frameon=False, fontsize=33,
                 handlelength=1.8, handletextpad=0.9, columnspacing=0.4,
                 borderpad=0, borderaxespad=0)
for t, c in zip(leg.get_texts(), ['black', 'blue', 'red']):
    t.set_color(c)

fig.savefig('out.png', dpi=100)
